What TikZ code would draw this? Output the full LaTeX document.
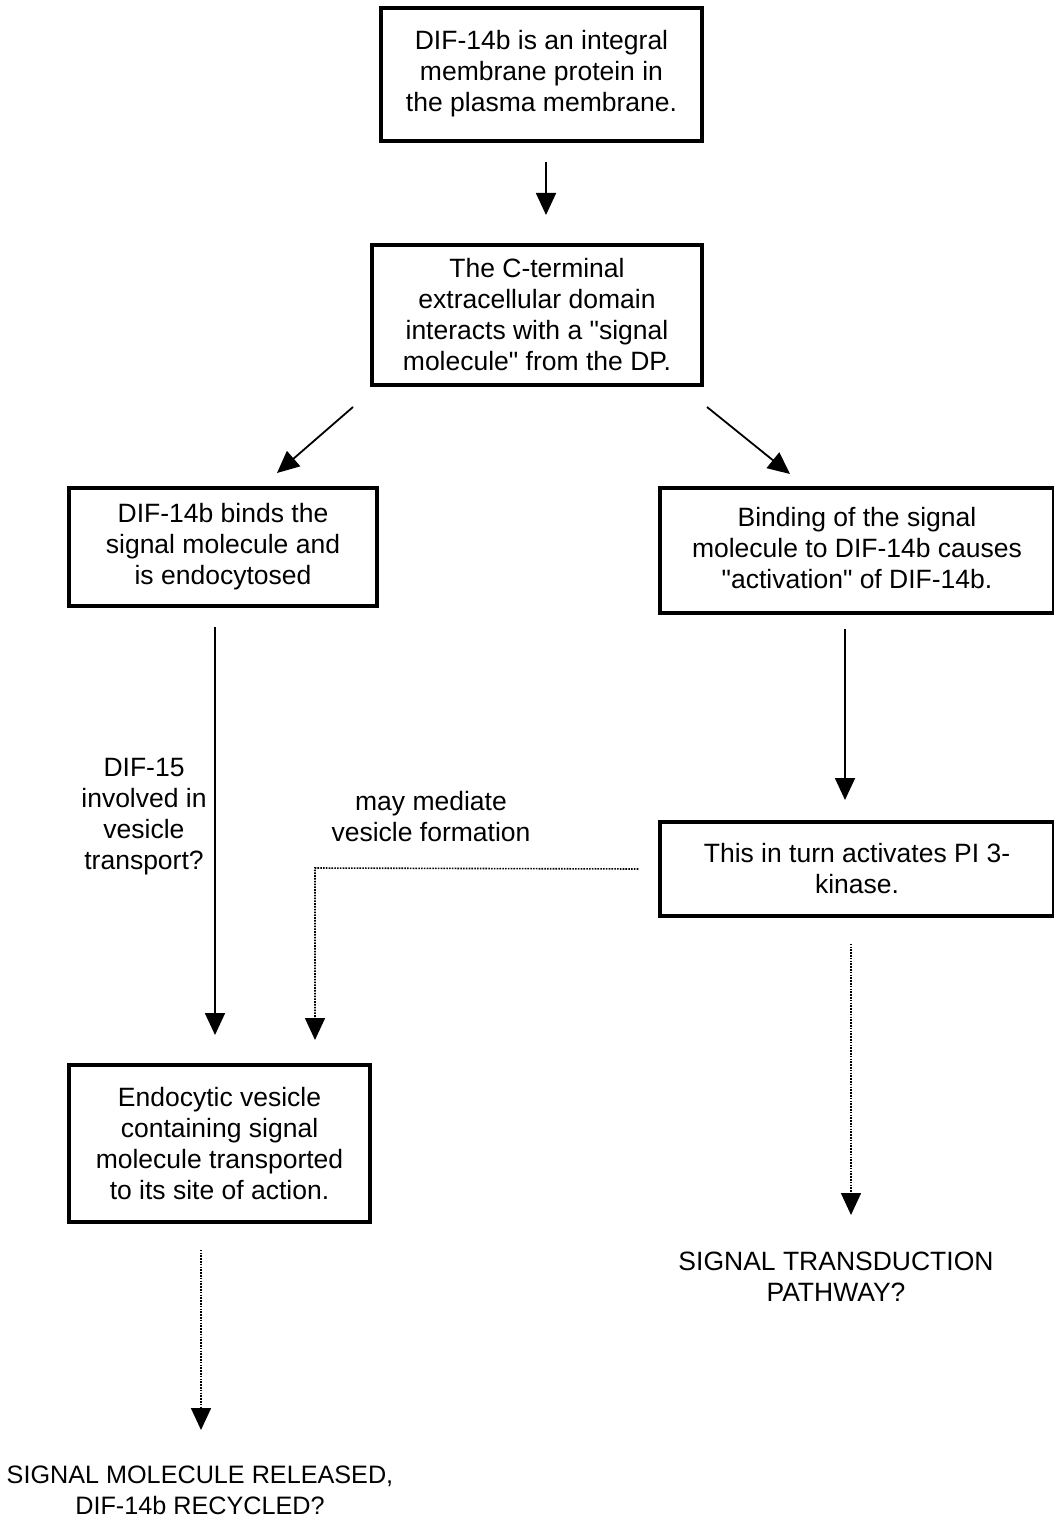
\documentclass[tikz,border=0pt]{standalone}
\usepackage{fontspec}
\setmainfont{Liberation Sans}[Ligatures=TeXOff]
\usetikzlibrary{arrows.meta}
\newcommand{\dq}{\symbol{34}}
\begin{document}
\begin{tikzpicture}[x=1pt,y=-1pt,
  box/.style={draw,line width=3.5pt,align=center,inner sep=0pt},
  lbl/.style={align=center,inner sep=0pt},
  arr/.style={line width=1.8pt,-{Triangle[width=20pt,length=22pt]}},
  dotarr/.style={line width=1.6pt,dash pattern=on 1.6pt off 1.2pt,-{Triangle[width=20pt,length=22pt]}},
  every node/.append style={font=\fontsize{26.5}{31}\selectfont}]
\useasboundingbox (0,0) rectangle (1054,1517);
\fill[white] (0,0) rectangle (1054,1517);

\node[box,minimum width=321pt,minimum height=133pt,text depth=8pt] (b1) at (541.5,74.5)
  {DIF-14b is an integral\\membrane protein in\\the plasma membrane.};
\node[box,minimum width=330pt,minimum height=140pt] (b2) at (537,315)
  {The C-terminal\\extracellular domain\\interacts with a \dq signal\\molecule\dq{} from the DP.};
\node[box,minimum width=308pt,minimum height=118pt] (b3) at (223,547)
  {DIF-14b binds the\\signal molecule and\\is endocytosed};
\node[box,minimum width=394pt,minimum height=125pt,text depth=5pt] (b4) at (857,550.5)
  {Binding of the signal\\molecule to DIF-14b causes\\\dq activation\dq{} of DIF-14b.};
\node[box,minimum width=394pt,minimum height=94pt] (b5) at (857,869)
  {This in turn activates PI 3-\\kinase.};
\node[box,minimum width=301pt,minimum height=157pt] (b6) at (219.5,1143.5)
  {Endocytic vesicle\\containing signal\\molecule transported\\to its site of action.};

\node[lbl] (t1) at (836,1277) {SIGNAL TRANSDUCTION\\PATHWAY?};
\node[lbl,font=\fontsize{25.2}{31}\selectfont] (t2) at (200,1490) {SIGNAL MOLECULE RELEASED,\\DIF-14b RECYCLED?};
\node[lbl] (l1) at (144,817) {DIF-15\\involved in\\vesicle\\transport?};
\node[lbl] (l2) at (431,817) {may mediate\\vesicle formation};

\coordinate (a2s) at (353,407);
\coordinate (a2e) at (277,473);
\coordinate (a3s) at (707,407);
\coordinate (a3e) at (790,474);
\coordinate (dk) at (315,868);

\draw[arr] (b1.south -| 546,0) ++(0,19) -- (546,215);
\draw[arr] (a2s) -- (a2e);
\draw[arr] (a3s) -- (a3e);
\draw[arr] (b3.south -| 215,0) ++(0,19) -- (215,1035);
\draw[arr] (b4.south -| 845,0) ++(0,14) -- (845,800);
\draw[dotarr] ([xshift=-20pt]b5.west) -- (dk) -- (315,1040);
\draw[dotarr] (b5.south -| 851,0) ++(0,26) -- (851,1215);
\draw[dotarr] (b6.south -| 201,0) ++(0,26) -- (201,1430);
\end{tikzpicture}
\end{document}
